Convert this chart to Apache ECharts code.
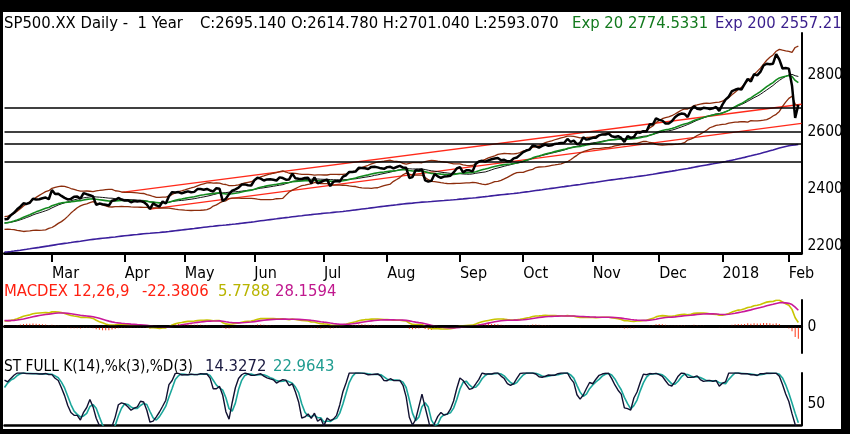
<!DOCTYPE html>
<html><head><meta charset="utf-8">
<script src="https://cdn.jsdelivr.net/npm/echarts@6/dist/echarts.min.js"></script>
<style>html,body{margin:0;padding:0;background:#000;}#c{width:850px;height:434px;}</style>
</head><body><div id="c"></div>
<script>
// ---- data (S&P 500 daily closes) ----
// warm-up closes (Nov 2016 - Feb 6 2017), used only to start the indicators
const warmupCloses = [
2111.72,2097.94,2088.66,2085.18,2131.52,2139.56,2163.26,2167.48,2164.45,2164.20,2180.39,2176.94,2187.12,2181.90,2198.18,2202.94,2204.72,2213.35,2201.72,2204.66,2198.81,
2191.08,2191.95,2204.71,2212.23,2241.35,2246.19,2259.53,2256.96,2271.72,2253.28,2262.03,2258.07,2262.53,2270.76,2265.18,2260.96,2263.79,2268.88,2249.92,2249.26,2238.83,
2257.83,2270.75,2269.00,2276.98,2268.90,2268.90,2275.32,2270.44,2274.64,2267.89,2271.89,2263.69,2271.31,2265.20,2280.07,2298.37,2296.68,2294.69,2280.90,2278.87,
2279.55,2280.85,2297.42,2292.56];
// drawn closes: Feb 7 2017 .. Feb 6 2018
const closes = [
2293.08,2294.67,2307.87,2316.10,2328.25,2337.58,2349.25,2347.22,2351.16,2365.38,2362.82,2363.81,2367.34,2369.75,2363.64,
2395.96,2381.92,2383.12,2375.31,2368.39,2362.98,2364.87,2372.60,2373.47,2365.45,2385.26,2381.38,2378.25,2373.47,2344.02,2348.45,2345.96,2343.98,2341.59,2358.57,2361.13,2368.06,2362.72,
2358.84,2360.16,2352.95,2357.49,2355.54,2357.16,2353.78,2344.93,2328.95,2349.01,2342.19,2338.17,2355.84,2348.69,2374.15,2388.61,2387.45,2388.77,2384.20,
2388.33,2391.17,2388.13,2389.52,2399.29,2399.38,2396.92,2399.63,2394.44,2390.90,2402.32,2400.67,2357.03,2365.72,2381.73,2394.02,2398.42,2404.39,2415.07,2415.82,2412.91,2411.80,
2430.06,2439.07,2436.10,2429.33,2433.14,2433.79,2431.77,2429.39,2440.35,2437.92,2432.46,2433.15,2453.46,2437.03,2435.61,2434.50,2438.30,2439.07,2419.38,2440.69,2419.70,2423.41,
2429.01,2432.54,2409.75,2425.18,2427.43,2425.53,2443.25,2447.83,2459.27,2459.14,2460.61,2473.83,2473.45,2472.54,2469.91,2477.13,2477.83,2475.42,2472.10,2470.30,
2476.35,2477.57,2472.16,2476.83,2480.91,2474.92,2474.02,2438.21,2441.32,2465.84,2464.61,2468.11,2430.01,2425.55,2428.37,2452.51,2444.04,2438.97,2443.05,2444.24,2446.30,2457.59,2471.65,
2476.55,2457.85,2465.54,2465.10,2461.43,2488.11,2496.48,2498.37,2495.62,2500.23,2503.87,2506.65,2508.24,2500.60,2502.22,2496.66,2496.84,2507.04,2510.06,2519.36,
2529.12,2534.58,2537.74,2552.07,2549.33,2544.73,2550.64,2555.24,2550.93,2553.17,2557.64,2559.36,2561.26,2562.10,2575.21,2564.98,2569.13,2557.15,2560.40,2581.07,2572.83,2575.26,
2579.36,2579.85,2587.84,2591.13,2590.64,2594.38,2584.62,2582.30,2584.84,2578.87,2564.62,2585.64,2578.85,2582.14,2599.03,2597.08,2602.42,2601.42,2627.04,2626.07,2647.58,
2642.22,2639.44,2629.57,2629.27,2636.98,2651.50,2659.99,2664.11,2662.85,2652.01,2675.81,2690.16,2681.47,2679.25,2684.57,2683.34,2680.50,2682.62,2687.54,2673.61,
2695.81,2713.06,2723.99,2743.15,2747.71,2751.29,2748.23,2767.56,2786.24,2776.42,2802.56,2798.03,2810.30,2832.97,2839.13,2837.54,2839.25,2872.87,2853.53,2822.43,2823.81,
2821.98,2762.13,2648.94,2695.14];
const monthStartIndex = [15,38,57,79,101,121,144,164,186,207,227,248];
const monthLabels = ['Mar','Apr','May','Jun','Jul','Aug','Sep','Oct','Nov','Dec','2018','Feb'];
const priceTickLabels = [2200,2400,2600,2800];
const levelLines = [2683,2601,2558,2495];
const trendUpper = [[37,2388],[252,2697]];
const trendLower = [[46,2329],[252,2630]];
const ema200Start = 2178;
const headerMain = 'SP500.XX Daily -  1 Year';
const headerOHLC = 'C:2695.140 O:2614.780 H:2701.040 L:2593.070';
const headerExp20 = 'Exp 20 2774.5331';
const headerExp200 = 'Exp 200 2557.215';
const macdTitle = 'MACDEX 12,26,9';
const macdValues = ['-22.3806','5.7788','28.1594'];
const stochTitle = 'ST FULL K(14),%k(3),%D(3)';
const stochValues = ['14.3272','22.9643'];

// ---- indicators derived from the closes ----
const all = warmupCloses.concat(closes);
const W = warmupCloses.length;
function ema(arr, n){const k=2/(n+1);const o=[];let e=arr[0];for(let i=0;i<arr.length;i++){e=i?arr[i]*k+e*(1-k):arr[0];o.push(e);}return o;}
function sma(arr,n){return arr.map((v,i)=>{if(i<n-1||v==null)return null;let s=0;for(let j=i-n+1;j<=i;j++){if(arr[j]==null)return null;s+=arr[j];}return s/n;});}
const r2=v=>v==null?null:Math.round(v*100)/100;
const ema20All=ema(all,20);
const sma20All=sma(all,20);
const bbU=[],bbL=[];
all.forEach((v,i)=>{if(i<19){bbU.push(null);bbL.push(null);return;}const m=sma20All[i];let s=0;for(let j=i-19;j<=i;j++)s+=(all[j]-m)**2;const sd=Math.sqrt(s/20);bbU.push(m+2*sd);bbL.push(m-2*sd);});
const e12=ema(all,12),e26=ema(all,26);
const macdAll=e12.map((v,i)=>v-e26[i]);
const sigAll=ema(macdAll,9);
const rawK=all.map((v,i)=>{if(i<13)return null;let hh=-1e9,ll=1e9;for(let j=i-13;j<=i;j++){hh=Math.max(hh,all[j]);ll=Math.min(ll,all[j]);}return hh===ll?50:100*(v-ll)/(hh-ll);});
const fullK=sma(rawK,3);
const fullD=sma(fullK,3);
const ema200=[];{const k=2/201;let e=ema200Start;closes.forEach((v,i)=>{if(i)e=v*k+e*(1-k);ema200.push(e);});}
const cut=a=>a.slice(W).map(r2);
const sEma20=cut(ema20All),sSma20=cut(sma20All),sBbU=cut(bbU),sBbL=cut(bbL);
const sMacd=cut(macdAll),sSig=cut(sigAll),sHist=sMacd.map((v,i)=>r2(v-sSig[i]));
const sK=cut(fullK),sD=cut(fullD);
const sEma200=ema200.map(r2);

const cats=Array.from({length:closes.length+1},(_,i)=>String(i));
const isMonth=i=>monthStartIndex.indexOf(i)>=0;
const FONT='"DejaVu Sans Condensed","Liberation Sans Narrow","DejaVu Sans",sans-serif';
const L=4.5,WID=797;
const grids=[{left:L,top:33,width:WID,height:220},{left:L,top:300,width:WID,height:53},{left:L,top:373,width:WID,height:52}];
function xAx(g,lw,labels){return {type:'category',gridIndex:g,data:cats,boundaryGap:false,
 axisLine:{show:true,lineStyle:{color:'#000',width:lw}},
 axisTick:{show:labels,interval:(i)=>isMonth(i),length:9,lineStyle:{color:'#000',width:2}},
 axisLabel:{show:labels,interval:(i)=>isMonth(i),formatter:(v,i)=>{const k=monthStartIndex.indexOf(i);return k>=0?monthLabels[k]:'';},align:'left',margin:13,fontSize:16,color:'#000',fontFamily:FONT},
 splitLine:{show:false}};}
function yAx(g,min,max,iv,show){return {type:'value',gridIndex:g,position:'right',min:min,max:max,interval:iv,
 axisLine:{show:true,lineStyle:{color:'#000',width:2}},axisTick:{show:false},splitLine:{show:false},
 axisLabel:{margin:6,fontSize:15.5,color:'#000',fontFamily:FONT,formatter:v=>show(v)?String(v):''}};}
const line=(g,data,color,w,z)=>({type:'line',xAxisIndex:g,yAxisIndex:g,data:data,symbol:'none',showSymbol:false,connectNulls:false,lineStyle:{color:color,width:w},itemStyle:{color:color},z:z||2,silent:true});

function txt(x,y,t,c,fs){return {type:'text',z:50,style:{x:x,y:y,text:t,fill:c,font:(fs||16.5)+'px '+FONT,textVerticalAlign:'middle',verticalAlign:'middle'}};}
const option={animation:false,backgroundColor:'#fff',
 grid:grids,
 xAxis:[xAx(0,3,true),xAx(1,3,false),xAx(2,2.5,false)],
 yAxis:[yAx(0,2175,2947,25,v=>priceTickLabels.indexOf(v)>=0),yAx(1,-48,48,48,v=>v===0),yAx(2,15,100,5,v=>v===50)],
 series:[
  line(0,sEma200,'#3b1f9c',1.6),
  line(0,trendUpper,'#ff2a1a',1.3),
  line(0,trendLower,'#ff2a1a',1.3),
  line(0,sBbU,'#8c2d0c',1.3),
  line(0,sBbL,'#8c2d0c',1.3),
  line(0,sSma20,'#111',1),
  line(0,sEma20,'#138a1e',1.6),
  Object.assign(line(0,closes,'#000',2.5,5),{markLine:{silent:true,symbol:['none','none'],label:{show:false},lineStyle:{color:'#000',width:1.5,type:'solid'},data:levelLines.map(v=>({yAxis:v}))}}),
  {type:'bar',xAxisIndex:1,yAxisIndex:1,data:sHist,barWidth:1,itemStyle:{color:'#ff3a1a'},silent:true,
   markLine:{silent:true,symbol:['none','none'],label:{show:false},lineStyle:{color:'#000',width:2.5,type:'solid'},data:[{yAxis:0}]}},
  line(1,sMacd,'#c8c400',1.6),
  line(1,sSig,'#c8189a',1.6),
  line(2,sD,'#1aa69a',1.6),
  line(2,sK,'#101030',1.4,3)
 ],
 graphic:[
  txt(4,24,headerMain,'#000'),txt(200,24,headerOHLC,'#000'),txt(572,24,headerExp20,'#137a1e'),txt(715,24,headerExp200,'#3a1e8c'),
  txt(4,292,macdTitle,'#ff2010'),txt(142,292,macdValues[0],'#ff2010'),txt(218,292,macdValues[1],'#b8b400'),txt(275,292,macdValues[2],'#c0188e'),
  txt(4,367,stochTitle,'#000',15.3),txt(205,367,stochValues[0],'#1a1a40'),txt(273,367,stochValues[1],'#1f9c90'),
  {type:'rect',z:100,shape:{x:0,y:0,width:850,height:12},style:{fill:'#000'}},
  {type:'rect',z:100,shape:{x:0,y:0,width:3,height:434},style:{fill:'#000'}},
  {type:'rect',z:100,shape:{x:841,y:0,width:9,height:434},style:{fill:'#000'}},
  {type:'rect',z:100,shape:{x:0,y:429,width:850,height:5},style:{fill:'#000'}}
 ]};
const chart=echarts.init(document.getElementById('c'),null,{renderer:'canvas'});
chart.setOption(option);
</script></body></html>
